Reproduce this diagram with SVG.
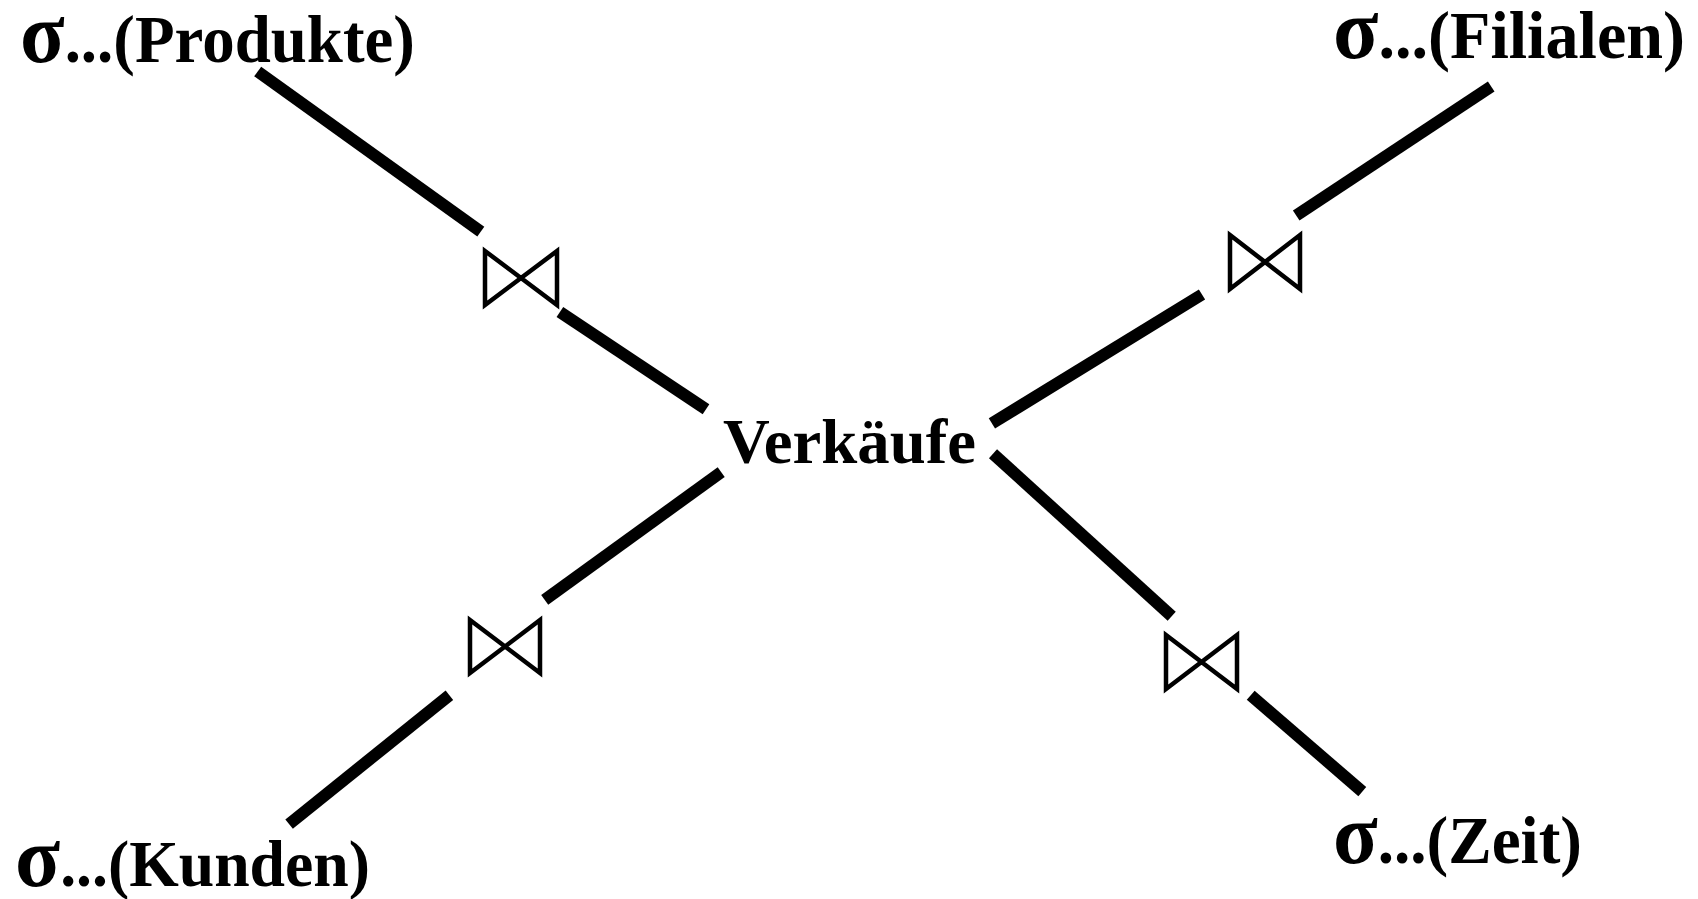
<svg xmlns="http://www.w3.org/2000/svg" width="1698" height="899" viewBox="0 0 1698 899">
<style>
.lbl{font-family:"Liberation Serif","Times New Roman",serif;font-weight:bold;fill:#000}
.sig{font-size:86px}
.edge{stroke:#000;stroke-width:12;stroke-linecap:butt;fill:none}
.join{stroke:#000;stroke-width:4.5;fill:none;stroke-linejoin:miter}
</style>
<rect width="1698" height="899" fill="#fff"/>
<g id="connectors">
<line class="edge" x1="257.7" y1="71.5" x2="480.8" y2="231.7"/>
<line class="edge" x1="559.9" y1="311.9" x2="706" y2="409.3"/>
<line class="edge" x1="991.9" y1="423.4" x2="1202" y2="294.5"/>
<line class="edge" x1="1296.2" y1="215.5" x2="1491.2" y2="86.6"/>
<line class="edge" x1="721.2" y1="472.1" x2="544.7" y2="599.9"/>
<line class="edge" x1="449.4" y1="695.2" x2="289.1" y2="824.1"/>
<line class="edge" x1="993" y1="453.7" x2="1171.7" y2="616.2"/>
<line class="edge" x1="1250.7" y1="695.2" x2="1362.3" y2="791.6"/>
</g>
<g id="join-produkte"><polygon class="join" points="485,251 557,305 557,251 485,305"/></g>
<g id="join-filialen"><polygon class="join" points="1230,235 1300,289 1300,235 1230,289"/></g>
<g id="join-kunden"><polygon class="join" points="470,620 540,673 540,620 470,673"/></g>
<g id="join-zeit"><polygon class="join" points="1166,635 1237,689 1237,635 1166,689"/></g>
<g id="node-verkaeufe"><text class="lbl" x="723" y="463" font-size="63" textLength="253" lengthAdjust="spacingAndGlyphs">Verkäufe</text></g>
<g id="node-produkte"><text class="lbl" x="20" y="62" font-size="68" textLength="395" lengthAdjust="spacingAndGlyphs"><tspan class="sig">σ</tspan>...(Produkte)</text></g>
<g id="node-filialen"><text class="lbl" x="1333" y="58" font-size="68" textLength="352" lengthAdjust="spacingAndGlyphs"><tspan class="sig">σ</tspan>...(Filialen)</text></g>
<g id="node-kunden"><text class="lbl" x="15" y="886" font-size="66" textLength="355" lengthAdjust="spacingAndGlyphs"><tspan class="sig">σ</tspan>...(Kunden)</text></g>
<g id="node-zeit"><text class="lbl" x="1333" y="863" font-size="68" textLength="249" lengthAdjust="spacingAndGlyphs"><tspan class="sig">σ</tspan>...(Zeit)</text></g>
</svg>
